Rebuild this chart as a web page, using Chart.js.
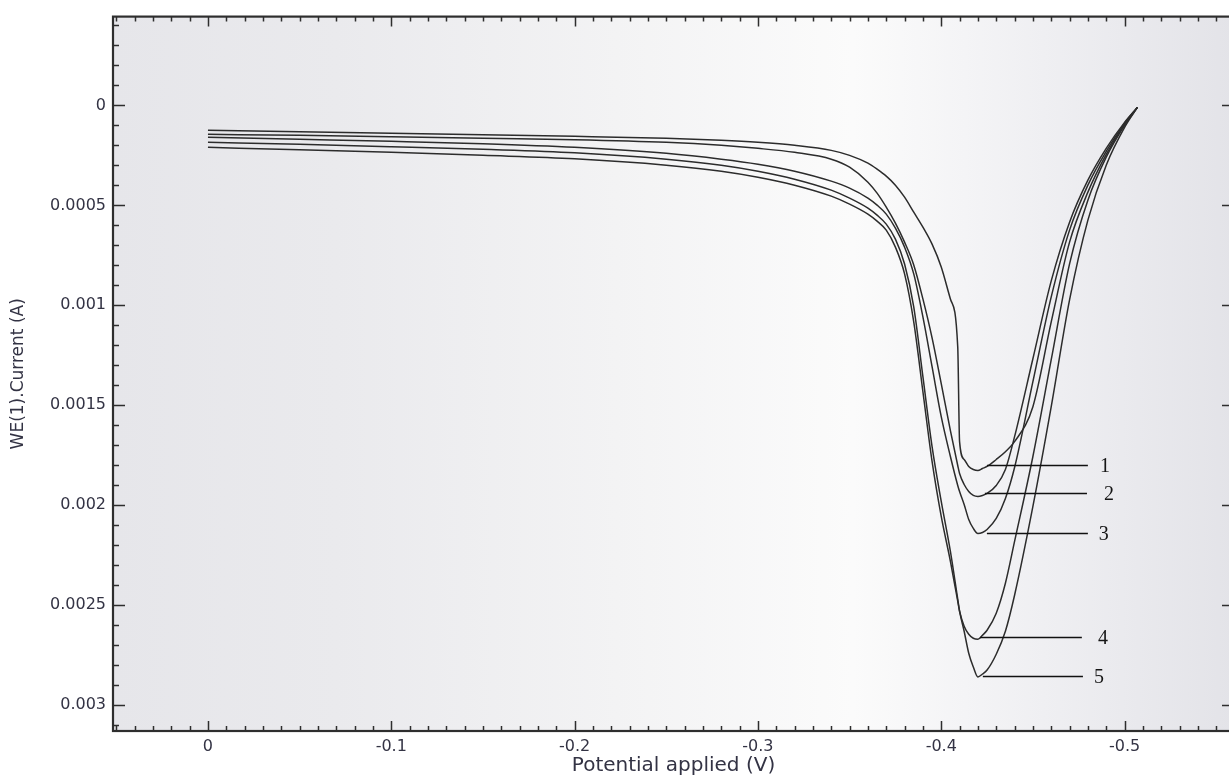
<!DOCTYPE html>
<html>
<head>
<meta charset="utf-8">
<script src="https://cdn.jsdelivr.net/npm/chart.js@4.4.1/dist/chart.umd.min.js"></script>
<style>
  html, body { margin: 0; padding: 0; background: #ffffff; overflow: hidden; }
  #wrap { width: 1240px; height: 776px; }
</style>
</head>
<body>
<div id="wrap"><canvas id="cv" width="1240" height="776"></canvas></div>
<script>
// Applied potential (V), shared by all five voltammograms
const potential = [0, -0.05, -0.1, -0.15, -0.2, -0.25, -0.28, -0.3, -0.32, -0.34, -0.35, -0.36, -0.365, -0.37, -0.375, -0.38, -0.385, -0.39, -0.395, -0.4, -0.405, -0.409, -0.41, -0.4125, -0.415, -0.4175, -0.42, -0.4225, -0.425, -0.43, -0.435, -0.44, -0.45, -0.46, -0.47, -0.48, -0.49, -0.5, -0.507];

// WE(1) current (A) for curves 1..5
const current1 = [0.000125, 0.000132, 0.000140, 0.000147, 0.000155, 0.000165, 0.000175, 0.000185, 0.000200, 0.000225, 0.000250, 0.000289, 0.000319, 0.000354, 0.000399, 0.000459, 0.000534, 0.000609, 0.000694, 0.000808, 0.000968, 0.001208, 0.001682, 0.001771, 0.001806, 0.001821, 0.001826, 0.001816, 0.001806, 0.001771, 0.001732, 0.001682, 0.001507, 0.001083, 0.000684, 0.000434, 0.000245, 0.000095, 0.000010];
const current2 = [0.000145, 0.000150, 0.000157, 0.000165, 0.000172, 0.000185, 0.000200, 0.000215, 0.000235, 0.000269, 0.000309, 0.000384, 0.000439, 0.000509, 0.000589, 0.000684, 0.000798, 0.000968, 0.001163, 0.001392, 0.001627, 0.001801, 0.001841, 0.001896, 0.001931, 0.001951, 0.001956, 0.001951, 0.001941, 0.001901, 0.001821, 0.001657, 0.001267, 0.000878, 0.000584, 0.000374, 0.000215, 0.000085, 0.000010];
const current3 = [0.000160, 0.000170, 0.000180, 0.000192, 0.000210, 0.000240, 0.000269, 0.000294, 0.000329, 0.000379, 0.000414, 0.000464, 0.000499, 0.000544, 0.000614, 0.000709, 0.000843, 0.001058, 0.001307, 0.001557, 0.001756, 0.001901, 0.001931, 0.001996, 0.002071, 0.002116, 0.002141, 0.002136, 0.002121, 0.002066, 0.001966, 0.001811, 0.001382, 0.000958, 0.000624, 0.000399, 0.000230, 0.000090, 0.000010];
const current4 = [0.000210, 0.000222, 0.000235, 0.000250, 0.000267, 0.000299, 0.000329, 0.000359, 0.000399, 0.000454, 0.000494, 0.000544, 0.000579, 0.000624, 0.000709, 0.000843, 0.001083, 0.001432, 0.001781, 0.002056, 0.002280, 0.002480, 0.002530, 0.002605, 0.002645, 0.002665, 0.002670, 0.002650, 0.002625, 0.002540, 0.002390, 0.002181, 0.001756, 0.001272, 0.000793, 0.000474, 0.000259, 0.000100, 0.000010];
const current5 = [0.000185, 0.000195, 0.000207, 0.000220, 0.000237, 0.000269, 0.000299, 0.000329, 0.000369, 0.000424, 0.000464, 0.000514, 0.000549, 0.000594, 0.000669, 0.000793, 0.001008, 0.001357, 0.001707, 0.001981, 0.002231, 0.002470, 0.002530, 0.002630, 0.002740, 0.002809, 0.002859, 0.002844, 0.002824, 0.002745, 0.002630, 0.002450, 0.002006, 0.001507, 0.000973, 0.000574, 0.000299, 0.000110, 0.000010];

// Curve numbering with leader lines
const curveNames = ['1', '2', '3', '4', '5'];
const leaderStart = [-0.4249, -0.4238, -0.4249, -0.4211, -0.4227];
const leaderEnd = [-0.48, -0.4795, -0.48, -0.4767, -0.4773];
const leaderCurrent = [0.001801, 0.001941, 0.002141, 0.002660, 0.002854];
const labelPotential = [-0.4893, -0.4915, -0.4887, -0.4882, -0.4860];

// Axis ticks
const xTickValues = [0, -0.1, -0.2, -0.3, -0.4, -0.5];
const xTickLabels = ['0', '-0.1', '-0.2', '-0.3', '-0.4', '-0.5'];
const yTickValues = [0, 0.0005, 0.001, 0.0015, 0.002, 0.0025, 0.003];
const yTickLabels = ['0', '0.0005', '0.001', '0.0015', '0.002', '0.0025', '0.003'];

const currents = [current1, current2, current3, current4, current5];

const frameColor = '#2e2e2e';
const textColor = '#333344';

const framePlugin = {
  id: 'frame',
  beforeDraw(chart) {
    const { ctx, chartArea: a } = chart;
    const g = ctx.createLinearGradient(a.left, 0, a.right, 0);
    g.addColorStop(0, '#e6e6ea');
    g.addColorStop(0.2, '#eaeaed');
    g.addColorStop(0.45, '#f3f3f4');
    g.addColorStop(0.66, '#fbfbfb');
    g.addColorStop(0.76, '#f4f4f6');
    g.addColorStop(0.9, '#eaeaee');
    g.addColorStop(1, '#e3e3e8');
    ctx.save();
    ctx.fillStyle = g;
    ctx.fillRect(a.left, a.top, a.right - a.left, a.bottom - a.top);
    ctx.restore();
  },
  afterDatasetsDraw(chart) {
    const { ctx, chartArea: a, scales } = chart;
    const xs = scales.x, ys = scales.y;
    ctx.save();
    ctx.strokeStyle = frameColor;
    ctx.lineWidth = 1.5;
    ctx.beginPath();
    // x ticks every 0.01 V, bottom and top
    for (let k = -56; k <= 5; k++) {
      const px = Math.round(xs.getPixelForValue(k / 100)) + 0.5;
      if (px < a.left || px > a.right) continue;
      const len = (k % 10 === 0) ? 10 : 5;
      ctx.moveTo(px, a.bottom); ctx.lineTo(px, a.bottom - len);
      ctx.moveTo(px, a.top); ctx.lineTo(px, a.top + len);
    }
    // y ticks every 0.0001 A on the left, major only on the right
    for (let k = -4; k <= 31; k++) {
      const py = Math.round(ys.getPixelForValue(k / 10000)) + 0.5;
      if (py < a.top || py > a.bottom) continue;
      const major = (k % 5 === 0);
      ctx.moveTo(a.left, py); ctx.lineTo(a.left + (major ? 12 : 6), py);
      if (major) { ctx.moveTo(a.right, py); ctx.lineTo(a.right - 12, py); }
    }
    ctx.stroke();
    ctx.lineWidth = 2.2;
    ctx.strokeRect(a.left, a.top, a.right - a.left, a.bottom - a.top);

    // leader lines and curve numbers
    ctx.strokeStyle = '#111111';
    ctx.lineWidth = 1.6;
    ctx.fillStyle = '#151515';
    ctx.font = '20px "Liberation Serif", "DejaVu Serif", serif';
    ctx.textAlign = 'center';
    ctx.textBaseline = 'middle';
    curveNames.forEach((name, i) => {
      const y = Math.round(ys.getPixelForValue(leaderCurrent[i])) + 0.5;
      ctx.beginPath();
      ctx.moveTo(xs.getPixelForValue(leaderStart[i]), y);
      ctx.lineTo(xs.getPixelForValue(leaderEnd[i]), y);
      ctx.stroke();
      ctx.fillText(name, xs.getPixelForValue(labelPotential[i]), y + 1);
    });
    ctx.restore();
  }
};

new Chart(document.getElementById('cv'), {
  type: 'line',
  data: {
    datasets: currents.map((c, i) => ({
      label: curveNames[i],
      data: potential.map((p, j) => ({ x: p, y: c[j] })),
      borderColor: '#2c2c2c',
      borderWidth: 1.5,
      pointRadius: 0,
      fill: false,
      cubicInterpolationMode: 'monotone'
    }))
  },
  options: {
    responsive: false,
    animation: false,
    devicePixelRatio: 1,
    layout: { padding: { top: 14, right: 6, left: 0, bottom: 0 } },
    plugins: { legend: { display: false }, tooltip: { enabled: false } },
    scales: {
      x: {
        type: 'linear',
        reverse: true,
        min: -0.5597,
        max: 0.0518,
        grid: { display: false, drawTicks: false },
        border: { display: false },
        afterFit: (s) => { s.height = 45; },
        afterBuildTicks: (s) => { s.ticks = xTickValues.map(v => ({ value: v })); },
        ticks: {
          padding: 6,
          color: textColor,
          font: { family: '"DejaVu Sans", sans-serif', size: 16 },
          maxRotation: 0,
          callback: (v) => xTickLabels[xTickValues.indexOf(v)]
        },
        title: {
          display: true,
          text: 'Potential applied (V)',
          color: textColor,
          font: { family: '"DejaVu Sans", sans-serif', size: 20, lineHeight: 1 },
          padding: { top: 0, bottom: 0 }
        }
      },
      y: {
        type: 'linear',
        reverse: true,
        min: -0.000444,
        max: 0.003129,
        grid: { display: false, drawTicks: false },
        border: { display: false },
        afterFit: (s) => { s.width = 113; },
        afterBuildTicks: (s) => { s.ticks = yTickValues.map(v => ({ value: v })); },
        ticks: {
          padding: 7,
          color: textColor,
          font: { family: '"DejaVu Sans", sans-serif', size: 16 },
          callback: (v) => yTickLabels[yTickValues.indexOf(v)]
        },
        title: {
          display: true,
          text: 'WE(1).Current (A)',
          color: textColor,
          font: { family: '"DejaVu Sans", sans-serif', size: 17, lineHeight: 1 },
          padding: { top: 10, bottom: 0 }
        }
      }
    }
  },
  plugins: [framePlugin]
});
</script>
</body>
</html>
